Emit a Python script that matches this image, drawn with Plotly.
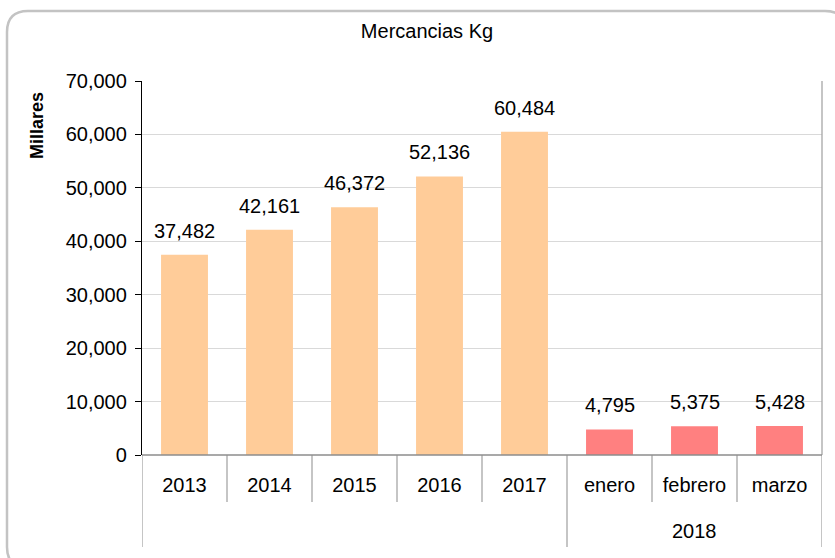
import plotly.graph_objects as go

categories = ["2013", "2014", "2015", "2016", "2017", "enero", "febrero", "marzo"]
values = [37482, 42161, 46372, 52136, 60484, 4795, 5375, 5428]
bar_colors = ["#FFCC99"] * 5 + ["#FF8080"] * 3
group_label = "2018"
group_members = ["enero", "febrero", "marzo"]
y_ticks = [0, 10000, 20000, 30000, 40000, 50000, 60000, 70000]

W, H = 835, 558
L, R, T, B = 142, 13, 81, 103
PW, PH = W - L - R, H - T - B
FONT = "Liberation Sans, Arial, sans-serif"


def px(x):
    return (x - L) / PW


def py(y):
    return (H - B - y) / PH


fig = go.Figure()
fig.add_trace(go.Bar(
    x=categories, y=values,
    marker=dict(color=bar_colors, line=dict(width=0)),
    hoverinfo="x+y",
))

annotations = []
for i, v in enumerate(values):
    annotations.append(dict(
        x=i, y=v, xref="x", yref="y", text=f"{v:,}", showarrow=False,
        yanchor="bottom", yshift=11, font=dict(size=20, color="#000000", family=FONT),
    ))

idx = [categories.index(m) for m in group_members]
annotations.append(dict(
    x=sum(idx) / len(idx), y=py(531), xref="x", yref="paper", text=group_label,
    showarrow=False, yanchor="middle", font=dict(size=20, color="#000000", family=FONT),
))
annotations.append(dict(
    x=px(37), y=py(126), xref="paper", yref="paper", text="<b>Millares</b>",
    showarrow=False, textangle=-90, xanchor="center", yanchor="middle",
    font=dict(size=18, color="#000000", family=FONT),
))

shapes = []
n = len(categories)
for i in range(n + 1):
    long = i in (0, idx[0], n)
    shapes.append(dict(
        type="line", xref="x", yref="paper", x0=i - 0.5, x1=i - 0.5,
        y0=0, y1=py(547) if long else py(502),
        line=dict(color="#A6A6A6", width=1.3),
    ))
shapes.append(dict(type="line", xref="paper", yref="paper", x0=1, x1=1,
                   y0=0, y1=1, line=dict(color="#A6A6A6", width=1.3)))
shapes.append(dict(type="line", xref="paper", yref="paper", x0=0, x1=1,
                   y0=0, y1=0, line=dict(color="#8C8C8C", width=1.5)))

fx0, fy0, fx1, fy1, r = 7, 11, 846, 568, 21
pts = [
    ("M", (fx0, fy0 + r)),
    ("Q", (fx0, fy0), (fx0 + r, fy0)),
    ("L", (fx1 - r, fy0)),
    ("Q", (fx1, fy0), (fx1, fy0 + r)),
    ("L", (fx1, fy1 - r)),
    ("Q", (fx1, fy1), (fx1 - r, fy1)),
    ("L", (fx0 + r, fy1)),
    ("Q", (fx0, fy1), (fx0, fy1 - r)),
]
path = ""
for seg in pts:
    coords = " ".join(f"{px(a):.5f},{py(b):.5f}" for a, b in seg[1:])
    path += f"{seg[0]} {coords} "
path += "Z"
shapes.append(dict(type="path", xref="paper", yref="paper", path=path,
                   line=dict(color="#C3C3C3", width=2.5), layer="above"))

fig.update_layout(
    width=W, height=H,
    margin=dict(l=L, r=R, t=T, b=B, pad=0),
    paper_bgcolor="white", plot_bgcolor="white",
    font=dict(family=FONT, size=20, color="#000000"),
    title=dict(text="Mercancias Kg", x=427 / W, xref="container", xanchor="center",
               y=1 - 31 / H, yref="container", yanchor="middle",
               font=dict(size=20, color="#000000", family=FONT)),
    bargap=0.448,
    showlegend=False,
    annotations=annotations,
    shapes=shapes,
    xaxis=dict(
        type="category", categoryorder="array", categoryarray=categories,
        range=[-0.5, n - 0.5], showgrid=False, showline=False, zeroline=False,
        ticks="outside", ticklen=12, tickcolor="rgba(0,0,0,0)",
        tickfont=dict(size=20, color="#000000", family=FONT), fixedrange=True,
    ),
    yaxis=dict(
        range=[0, 70000], tickvals=y_ticks, tickformat=",",
        showgrid=True, gridcolor="#D9D9D9", gridwidth=1,
        showline=True, linecolor="#000000", linewidth=1.3,
        ticks="outside", ticklen=6, tickcolor="#000000", tickwidth=1,
        zeroline=False, tickfont=dict(size=20, color="#000000", family=FONT),
        ticklabelstandoff=4, fixedrange=True,
    ),
)

fig.write_html(
    "out.html",
    config={"displayModeBar": False},
    post_script="document.body.style.margin='0';document.body.style.overflow='hidden';",
)
